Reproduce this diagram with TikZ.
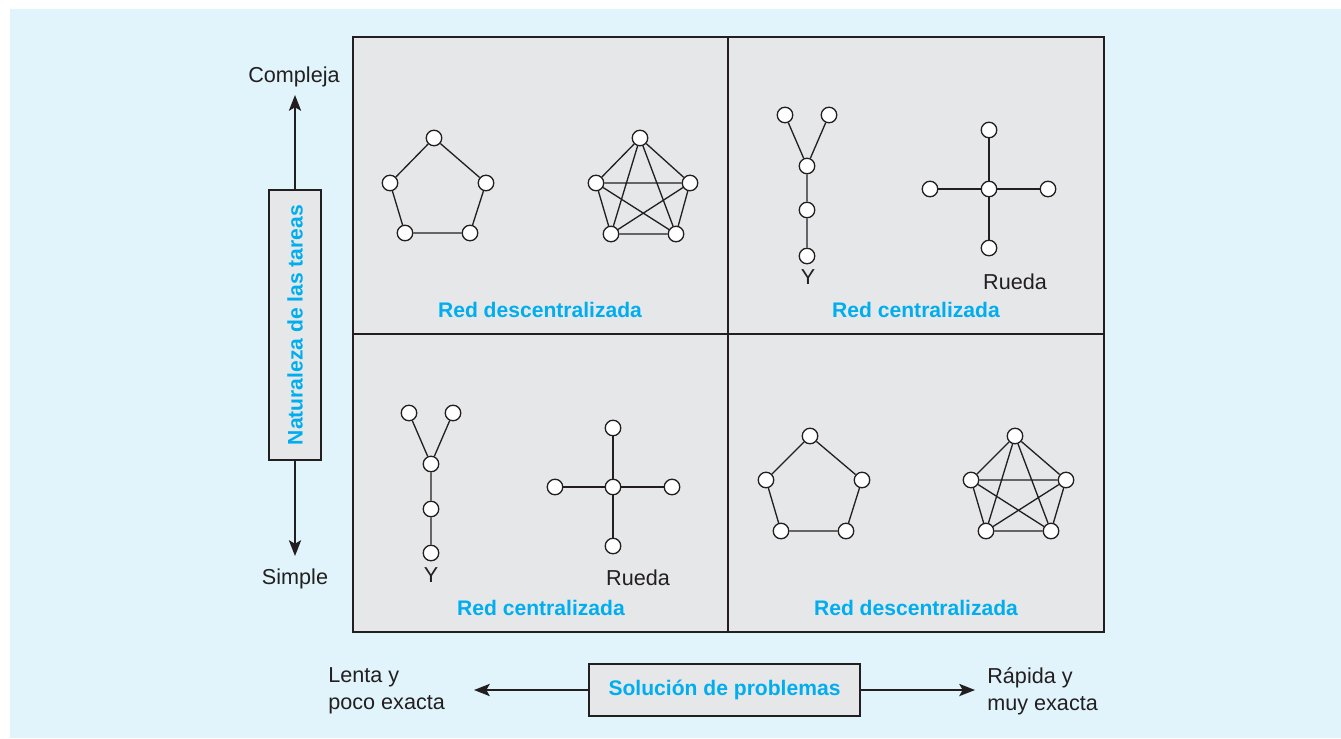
\documentclass[tikz,border=0pt]{standalone}
\usepackage{fontspec}
\setmainfont{Liberation Sans}
\usepackage{tikz}
\usetikzlibrary{arrows.meta, positioning}
\definecolor{panelblue}{RGB}{225,244,251}
\definecolor{cellgray}{RGB}{230,231,233}
\definecolor{inkdark}{RGB}{35,31,32}
\definecolor{titleblue}{RGB}{0,174,239}

\begin{document}
\begin{tikzpicture}[
  x=0.02cm, y=-0.02cm,
  vertex/.style={circle, draw=inkdark, fill=white, line width=0.75pt,
                 minimum size=0.31cm, inner sep=0pt},
  link/.style={draw=inkdark, line width=0.75pt},
  title/.style={font=\fontsize{12}{14}\selectfont\bfseries, text=titleblue},
  caption/.style={font=\fontsize{12.3}{15.5}\selectfont, text=inkdark,
                  inner sep=0pt, align=left},
  axisbox/.style={rectangle, draw=inkdark, fill=cellgray, line width=0.7pt},
  arr/.style={-{Stealth[length=9pt, width=7pt, inset=2pt]}, line width=0.8pt, inkdark},
]

% Page and panel
\useasboundingbox (0,0) rectangle (1341,738);
\fill[white] (0,0) rectangle (1341,738);
\fill[panelblue] (10,9) rectangle (1341,738);

% Quadrant grid
\draw[fill=cellgray, draw=inkdark, line width=0.9pt] (353,37) rectangle (1104,632);
\draw[inkdark, line width=0.9pt] (728,37) -- (728,632);
\draw[inkdark, line width=0.9pt] (353,334) -- (1104,334);

% Vertical axis
\node[axisbox, title, rotate=90, minimum width=5.4cm, minimum height=1.04cm]
  (tasks) at (295,325) {Naturaleza de las tareas};
\coordinate (complexTip) at (295,95);
\coordinate (simpleTip) at (295,556);
\node[caption] (complex) at (294,77) {Compleja};
\node[caption] (simple) at (295,579) {Simple};

% Horizontal axis
\node[axisbox, title, minimum width=5.42cm, minimum height=1.04cm]
  (problems) at (724.5,690) {Solución de problemas};
\coordinate (slowTip) at (474,690);
\coordinate (fastTip) at (975,690);
\node[caption, anchor=west] (slow) at (328,691) {Lenta y\\poco exacta};
\node[caption, anchor=west] (fast) at (987,691) {Rápida y\\muy exacta};

% Top left -- ring and full graph
\node[vertex] (nwR1) at (434,138) {};
\node[vertex] (nwR2) at (486,183) {};
\node[vertex] (nwR3) at (470,233) {};
\node[vertex] (nwR4) at (405,233) {};
\node[vertex] (nwR5) at (390,183) {};
\node[vertex] (nwK1) at (640,138) {};
\node[vertex] (nwK2) at (690,183) {};
\node[vertex] (nwK3) at (676,234) {};
\node[vertex] (nwK4) at (611,234) {};
\node[vertex] (nwK5) at (596,183) {};
\node[title] (nwTitle) at (540,310) {Red descentralizada};

% Top right -- Y and wheel
\node[vertex] (neY1) at (785,115) {};
\node[vertex] (neY2) at (829,115) {};
\node[vertex] (neY3) at (807,166) {};
\node[vertex] (neY4) at (807,210) {};
\node[vertex] (neY5) at (807,256) {};
\node[vertex] (neW0) at (989,189) {};
\node[vertex] (neW1) at (989,130) {};
\node[vertex] (neW2) at (1048,189) {};
\node[vertex] (neW3) at (989,248) {};
\node[vertex] (neW4) at (930,189) {};
\node[caption] (neYName) at (808,277) {Y};
\node[caption] (neWName) at (1015,282) {Rueda};
\node[title] (neTitle) at (916,310) {Red centralizada};

% Bottom left -- Y and wheel
\node[vertex] (swY1) at (409,413) {};
\node[vertex] (swY2) at (453,413) {};
\node[vertex] (swY3) at (431,464) {};
\node[vertex] (swY4) at (431,509) {};
\node[vertex] (swY5) at (431,553) {};
\node[vertex] (swW0) at (613,487) {};
\node[vertex] (swW1) at (613,428) {};
\node[vertex] (swW2) at (672,487) {};
\node[vertex] (swW3) at (613,546) {};
\node[vertex] (swW4) at (555,487) {};
\node[caption] (swYName) at (431,575) {Y};
\node[caption] (swWName) at (638,578) {Rueda};
\node[title] (swTitle) at (541,608) {Red centralizada};

% Bottom right -- ring and full graph
\node[vertex] (seR1) at (810,436) {};
\node[vertex] (seR2) at (862,480) {};
\node[vertex] (seR3) at (846,531) {};
\node[vertex] (seR4) at (781,531) {};
\node[vertex] (seR5) at (766,480) {};
\node[vertex] (seK1) at (1015,436) {};
\node[vertex] (seK2) at (1066,480) {};
\node[vertex] (seK3) at (1051,531) {};
\node[vertex] (seK4) at (986,531) {};
\node[vertex] (seK5) at (971,480) {};
\node[title] (seTitle) at (916,608) {Red descentralizada};

% Axis arrows
\draw[arr] (tasks.east) -- (complexTip);
\draw[arr] (tasks.west) -- (simpleTip);
\draw[arr] (problems.west) -- (slowTip);
\draw[arr] (problems.east) -- (fastTip);

% Links
\draw[link] (nwR1) -- (nwR2) (nwR2) -- (nwR3) (nwR3) -- (nwR4) (nwR4) -- (nwR5) (nwR5) -- (nwR1);
\draw[link] (nwK1) -- (nwK2) (nwK1) -- (nwK3) (nwK1) -- (nwK4) (nwK1) -- (nwK5)
            (nwK2) -- (nwK3) (nwK2) -- (nwK4) (nwK2) -- (nwK5)
            (nwK3) -- (nwK4) (nwK3) -- (nwK5) (nwK4) -- (nwK5);
\draw[link] (neY1) -- (neY3) (neY2) -- (neY3) (neY3) -- (neY4) (neY4) -- (neY5);
\draw[link] (neW0) -- (neW1) (neW0) -- (neW2) (neW0) -- (neW3) (neW0) -- (neW4);
\draw[link] (swY1) -- (swY3) (swY2) -- (swY3) (swY3) -- (swY4) (swY4) -- (swY5);
\draw[link] (swW0) -- (swW1) (swW0) -- (swW2) (swW0) -- (swW3) (swW0) -- (swW4);
\draw[link] (seR1) -- (seR2) (seR2) -- (seR3) (seR3) -- (seR4) (seR4) -- (seR5) (seR5) -- (seR1);
\draw[link] (seK1) -- (seK2) (seK1) -- (seK3) (seK1) -- (seK4) (seK1) -- (seK5)
            (seK2) -- (seK3) (seK2) -- (seK4) (seK2) -- (seK5)
            (seK3) -- (seK4) (seK3) -- (seK5) (seK4) -- (seK5);

\end{tikzpicture}
\end{document}
